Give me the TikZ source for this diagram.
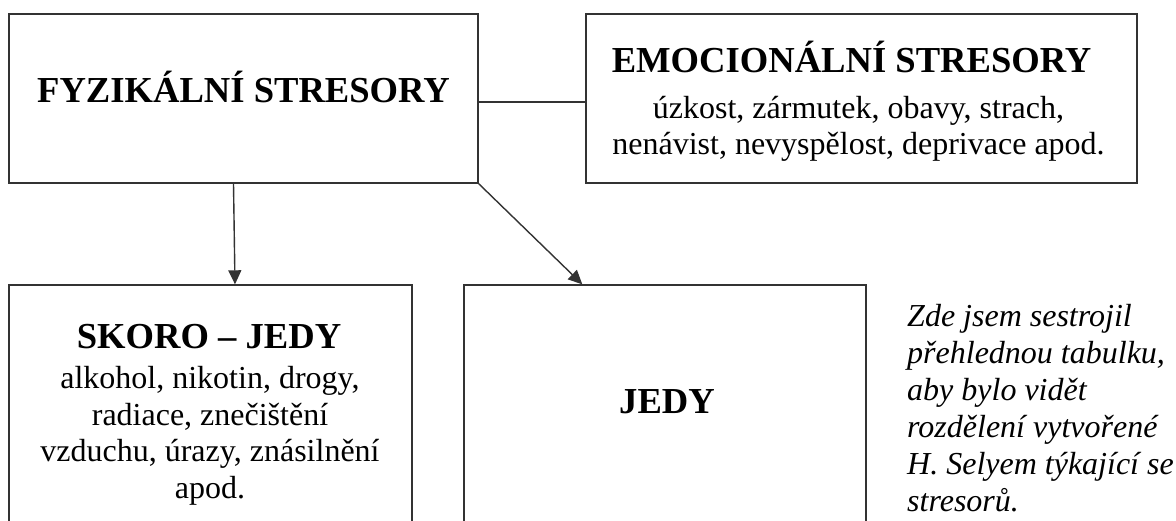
\documentclass[tikz,border=0pt]{standalone}
\usepackage{fontspec}
\setmainfont{Liberation Serif}
\usetikzlibrary{arrows.meta}

\tikzset{
  box/.style={draw=black!80, line width=1.4pt, inner sep=0pt},
  head/.style={font=\fontsize{36.6}{42}\selectfont\bfseries, inner sep=0pt},
  body/.style={font=\fontsize{32}{36.5}\selectfont, align=center, inner sep=0pt},
  note/.style={font=\fontsize{32}{37}\selectfont\itshape, align=left, inner sep=0pt},
  link/.style={draw=black!80, line width=1.4pt},
  arr/.style={link, -{Triangle[length=14pt,width=13pt]}}
}

\begin{document}
\begin{tikzpicture}[x=1pt, y=-1pt]
  \clip (0,0) rectangle (1176,520);
  \node[box, minimum width=469pt, minimum height=169pt] (fyz) at (243.5,98.5) {};
  \node[box, minimum width=551pt, minimum height=169pt] (emo) at (861.5,98.5) {};
  \node[box, minimum width=403pt, minimum height=255pt] (skoro) at (210.5,412.5) {};
  \node[box, minimum width=402pt, minimum height=255pt] (jedy) at (665,412.5) {};

  \node[head, anchor=base] (fyzT) at (243.5,102) {FYZIKÁLNÍ STRESORY};
  \node[head, anchor=base] (emoT) at (851.6,72) {EMOCIONÁLNÍ STRESORY};
  \node[body] (emoB) at (858.5,129) {úzkost, zármutek, obavy, strach,\\nenávist, nevyspělost, deprivace apod.};
  \node[head, anchor=base] (skoroT) at (209,348) {SKORO – JEDY};
  \node[body] (skoroB) at (210,436) {alkohol, nikotin, drogy,\\radiace, znečištění\\vzduchu, úrazy, znásilnění\\apod.};
  \node[head] (jedyT) at (667,402) {JEDY};
  \node[note, anchor=north west] (pozn) at (907,304) {Zde jsem sestrojil\\přehlednou tabulku,\\aby bylo vidět\\rozdělení vytvořené\\H. Selyem týkající se\\stresorů.};

  \draw[link] ([yshift=-3.5pt]fyz.east) -- ([yshift=-3.5pt]fyz.east -| emo.west);
  \draw[arr] ([xshift=-10pt]fyz.south) -- ([xshift=24.5pt]skoro.north);
  \draw[arr] (fyz.south east) -- ([xshift=119pt]jedy.north west);
\end{tikzpicture}
\end{document}
